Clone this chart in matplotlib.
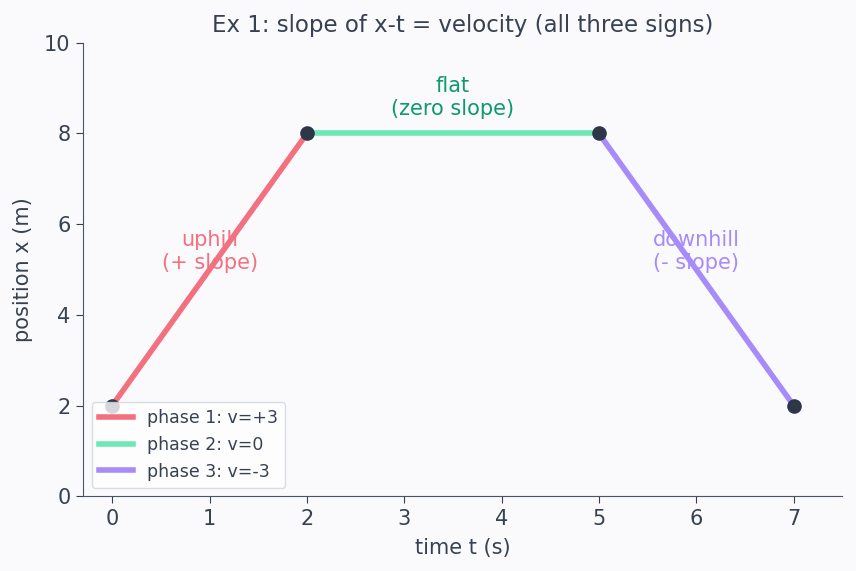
import matplotlib.pyplot as plt

# phase data
t1 = [0, 2]
x1 = [2, 8]
t2 = [2, 5]
x2 = [8, 8]
t3 = [5, 7]
x3 = [8, 2]
knot_t = [0, 2, 5, 7]
knot_x = [2, 8, 8, 2]
labels = ['phase 1: v=+3', 'phase 2: v=0', 'phase 3: v=-3']

bg = '#fafafd'
ink = '#374151'
c_up = '#f3707f'
c_flat = '#6ee7b7'
c_down = '#a78bfa'

fig = plt.figure(figsize=(8.56, 5.71), dpi=100, facecolor=bg)
ax = fig.add_axes([0.097, 0.131, 0.887, 0.794], facecolor=bg)

ax.plot(t1, x1, color=c_up, lw=4, label=labels[0], zorder=3)
ax.plot(t2, x2, color=c_flat, lw=4, label=labels[1], zorder=3)
ax.plot(t3, x3, color=c_down, lw=4, label=labels[2], zorder=3)
ax.plot(knot_t, knot_x, 'o', color='#2d3748', ms=9.5, ls='none', zorder=4)

ax.text(1, 5.4, 'uphill\n(+ slope)', color=c_up, fontsize=15, ha='center', va='center', zorder=2)
ax.text(6, 5.4, 'downhill\n(- slope)', color=c_down, fontsize=15, ha='center', va='center', zorder=2)
ax.text(3.5, 8.8, 'flat\n(zero slope)', color='#0f9a6a', fontsize=15, ha='center', va='center', zorder=2)

ax.set_xlim(-0.3, 7.5)
ax.set_ylim(0, 10)
ax.set_xticks(range(0, 8))
ax.set_yticks(range(0, 11, 2))
ax.set_xlabel('time t (s)', fontsize=15, color=ink, labelpad=7)
ax.set_ylabel('position x (m)', fontsize=15, color=ink, labelpad=8)
ax.set_title('Ex 1: slope of x-t = velocity (all three signs)', fontsize=16.5, color=ink, pad=7.5)
ax.tick_params(colors=ink, labelsize=15, length=5, pad=4)
for s in ['top', 'right']:
    ax.spines[s].set_visible(False)
for s in ['left', 'bottom']:
    ax.spines[s].set_color('#4b5563')

leg = ax.legend(loc='lower left', fontsize=12.5, framealpha=0.8, labelcolor=ink)
leg.get_frame().set_edgecolor('#d1d5db')
leg.set_zorder(5)

fig.savefig('out.png', dpi=100, facecolor=bg)
